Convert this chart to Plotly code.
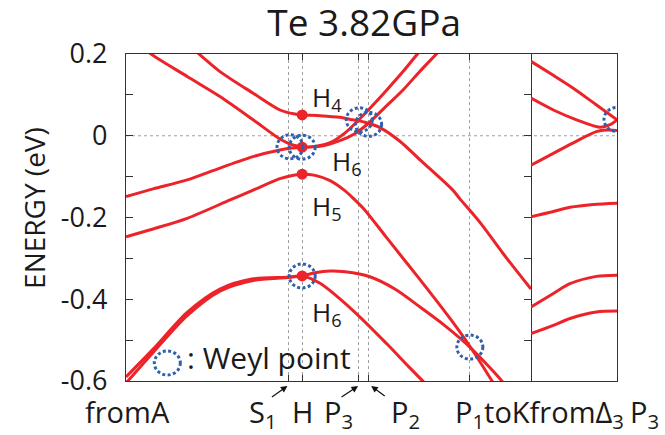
import plotly.graph_objects as go

# ---------------- data ----------------
# k-path positions (left panel, arbitrary units 0..1)
K_S1, K_H, K_P3, K_P2, K_P1 = 0.401, 0.435, 0.573, 0.598, 0.848
sym_k = [K_S1, K_H, K_P3, K_P2, K_P1]

# left panel bands (fromA ... toK)
bandA_k = [0.158, 0.178, 0.232, 0.314, 0.380, 0.417, 0.435, 0.479, 0.528, 0.560, 0.590, 0.627, 0.677, 0.726, 0.807, 0.825, 0.874, 0.931, 1.000]
bandA_E = [0.220, 0.202, 0.157, 0.104, 0.063, 0.053, 0.051, 0.049, 0.045, 0.039, 0.033, 0.020, -0.014, -0.059, -0.133, -0.155, -0.212, -0.288, -0.375]

bandB_k = [0.047, 0.059, 0.151, 0.232, 0.314, 0.380, 0.410, 0.435]
bandB_E = [0.215, 0.202, 0.145, 0.096, 0.039, -0.008, -0.022, -0.028]

bandC_k = [0.000, 0.067, 0.151, 0.232, 0.314, 0.380, 0.410, 0.435]
bandC_E = [-0.149, -0.130, -0.108, -0.079, -0.051, -0.035, -0.030, -0.028]

bandU1_k = [0.435, 0.467, 0.504, 0.541, 0.573, 0.607, 0.644, 0.684, 0.721, 0.738]
bandU1_E = [-0.028, -0.026, -0.017, 0.007, 0.037, 0.072, 0.112, 0.157, 0.202, 0.222]

bandU2_k = [0.435, 0.479, 0.528, 0.565, 0.598, 0.640, 0.684, 0.726, 0.768, 0.785]
bandU2_E = [-0.028, -0.026, -0.012, 0.005, 0.030, 0.070, 0.112, 0.158, 0.202, 0.222]

bandD_k = [0.000, 0.067, 0.151, 0.257, 0.314, 0.380, 0.417, 0.435, 0.467, 0.504, 0.541, 0.560, 0.590, 0.644, 0.726, 0.800, 0.849, 0.904, 0.920]
bandD_E = [-0.247, -0.228, -0.202, -0.157, -0.133, -0.105, -0.096, -0.094, -0.097, -0.110, -0.135, -0.152, -0.182, -0.250, -0.352, -0.447, -0.515, -0.600, -0.625]

bandE1_k = [0.000, 0.067, 0.151, 0.232, 0.314, 0.398, 0.435, 0.467, 0.504, 0.541, 0.602, 0.664, 0.726, 0.788, 0.849, 0.928, 0.945]
bandE1_E = [-0.590, -0.522, -0.432, -0.375, -0.350, -0.346, -0.343, -0.335, -0.331, -0.333, -0.345, -0.375, -0.419, -0.465, -0.517, -0.600, -0.625]

bandE2_k = [0.000, 0.067, 0.151, 0.232, 0.314, 0.398, 0.435, 0.479, 0.560, 0.644, 0.701, 0.743, 0.760]
bandE2_E = [-0.605, -0.530, -0.440, -0.380, -0.354, -0.347, -0.343, -0.361, -0.427, -0.509, -0.568, -0.610, -0.625]

left_bands = [(bandA_k, bandA_E), (bandB_k, bandB_E), (bandC_k, bandC_E),
              (bandU1_k, bandU1_E), (bandU2_k, bandU2_E), (bandD_k, bandD_E),
              (bandE1_k, bandE1_E), (bandE2_k, bandE2_E)]

# right panel bands (fromΔ3 ... P3)
r1_k = [0, 0.25, 0.5, 0.75, 1.0];            r1_E = [0.182, 0.149, 0.115, 0.077, 0.039]
r2_k = [0, 0.26, 0.53, 0.80, 0.92, 1.0];     r2_E = [0.092, 0.063, 0.039, 0.021, 0.027, 0.039]
r3_k = [0, 0.26, 0.53, 0.76, 0.88, 1.0];     r3_E = [-0.072, -0.043, -0.013, 0.010, 0.014, 0.013]
r4_k = [0, 0.25, 0.453, 0.725, 1.0];         r4_E = [-0.198, -0.186, -0.175, -0.168, -0.165]
r5_k = [0, 0.26, 0.453, 0.76, 1.0];          r5_E = [-0.419, -0.386, -0.362, -0.344, -0.341]
r6_k = [0, 0.26, 0.453, 0.76, 1.0];          r6_E = [-0.484, -0.464, -0.447, -0.431, -0.429]
right_bands = [(r1_k, r1_E), (r2_k, r2_E), (r3_k, r3_E), (r4_k, r4_E), (r5_k, r5_E), (r6_k, r6_E)]

# H-point states
h_E = [0.051, -0.028, -0.094, -0.343]
h_labels = ["H<sub>4</sub>", "H<sub>6</sub>", "H<sub>5</sub>", "H<sub>6</sub>"]

# Weyl points
weyl_k = [0.405, 0.435, 0.576, 0.599, 0.435, 0.849]
weyl_E = [-0.027, -0.028, 0.039, 0.028, -0.343, -0.517]
weyl2_k = [1.0]
weyl2_E = [0.040]
legend_k, legend_E = 0.102, -0.556

E_MIN, E_MAX = -0.6, 0.2
ytick_vals = [-0.6, -0.4, -0.2, 0, 0.2]
ytick_text = ["-0.6", "-0.4", "-0.2", "0", "0.2"]

# ---------------- figure ----------------
RED = "#ec2329"
BLUE = "#2f5fae"
TXT = "#1a1a1a"
AX = "#333333"
FONT = "Open Sans"
LW = 1.3

fig = go.Figure()
for kk, ee in left_bands:
    fig.add_trace(go.Scatter(x=kk, y=ee, mode="lines", xaxis="x", yaxis="y",
                             line=dict(color=RED, width=3, shape="spline", smoothing=0.8),
                             hoverinfo="skip", showlegend=False))
for kk, ee in right_bands:
    fig.add_trace(go.Scatter(x=kk, y=ee, mode="lines", xaxis="x2", yaxis="y2",
                             line=dict(color=RED, width=3, shape="spline", smoothing=0.8),
                             hoverinfo="skip", showlegend=False))
fig.add_trace(go.Scatter(x=[K_H] * len(h_E), y=h_E, mode="markers", xaxis="x", yaxis="y",
                         marker=dict(color=RED, size=11), showlegend=False, hoverinfo="skip"))

dom_split = 405 / 491
fig.update_layout(
    width=665, height=435,
    margin=dict(l=126, r=48, t=54, b=54),
    paper_bgcolor="white", plot_bgcolor="white",
    font=dict(family=FONT, color=TXT),
    showlegend=False,
    title=dict(text="Te 3.82GPa", font=dict(size=37, family=FONT, color=TXT),
               x=0.485, xref="paper", xanchor="center", y=0.977, yref="container", yanchor="top",
               pad=dict(t=0, b=0, l=0, r=0)),
    xaxis=dict(domain=[0, dom_split], range=[0, 1], anchor="y",
               tickvals=sym_k, ticks="inside", ticklen=6, tickcolor=AX, tickwidth=1,
               showticklabels=False, showline=True, linecolor=AX, linewidth=LW, mirror="ticks",
               showgrid=True, gridcolor="#a0a0a0", gridwidth=1, griddash="dot", zeroline=False),
    xaxis2=dict(domain=[dom_split, 1], range=[0, 1], anchor="y2",
                showticklabels=False, ticks="", showline=True, linecolor=AX, linewidth=LW,
                mirror=True, showgrid=False, zeroline=False),
    yaxis=dict(range=[E_MIN, E_MAX], anchor="x", tickvals=ytick_vals, ticktext=ytick_text,
               ticks="inside", ticklen=7, tickcolor=AX, tickwidth=1.2,
               minor=dict(dtick=0.1, tick0=0, ticks="inside", ticklen=7, tickcolor=AX, tickwidth=1.2),
               tickfont=dict(size=27, family=FONT, color=TXT), ticklabelstandoff=12,
               showline=True, linecolor=AX, linewidth=LW, mirror="ticks",
               showgrid=False, zeroline=False),
    yaxis2=dict(range=[E_MIN, E_MAX], anchor="x2", matches="y", side="right", showticklabels=False,
                ticks="", showline=True, linecolor=AX, linewidth=LW, mirror=False,
                showgrid=False, zeroline=False),
)

shapes = []
# zero-energy dotted reference line
shapes.append(dict(type="line", xref="paper", yref="y", x0=0, x1=1, y0=0, y1=0,
                   line=dict(color="#a0a0a0", width=1, dash="dot"), layer="below"))

def weyl_circle(xref, yref, xc, yc):
    return dict(type="circle", xref=xref, yref=yref, xsizemode="pixel", ysizemode="pixel",
                xanchor=xc, yanchor=yc, x0=-13, x1=13, y0=-12, y1=12,
                line=dict(color=BLUE, width=3, dash="3px,2.4px"), layer="above")

for kk, ee in zip(weyl_k, weyl_E):
    shapes.append(weyl_circle("x", "y", kk, ee))
for kk, ee in zip(weyl2_k, weyl2_E):
    shapes.append(weyl_circle("x2", "y2", kk, ee))
shapes.append(weyl_circle("x", "y", legend_k, legend_E))
fig.update_layout(shapes=shapes)

ann = []
# H labels
h_shift = [(8, 17), (28, -15), (8, -33), (8, -37)]
for e, lab, (dx, dy) in zip(h_E, h_labels, h_shift):
    ann.append(dict(x=K_H, y=e, xref="x", yref="y", text=lab, showarrow=False,
                    xanchor="left", yanchor="middle", xshift=dx, yshift=dy,
                    font=dict(size=26, family=FONT, color=TXT)))
# legend text
ann.append(dict(x=legend_k, y=legend_E, xref="x", yref="y", text=": Weyl point", showarrow=False,
                xanchor="left", yanchor="middle", xshift=18, yshift=6,
                font=dict(size=30, family=FONT, color=TXT)))
# y-axis title
ann.append(dict(x=-0.189, y=0.53, xref="paper", yref="paper", text="ENERGY (eV)", showarrow=False,
                textangle=-90, xanchor="center", yanchor="middle",
                font=dict(size=28, family=FONT, color=TXT)))
# bottom labels
LBL = dict(size=29, family=FONT, color=TXT)
bottom = [
    ("x", 0.0, "fromA", "center", 1),
    ("x", K_S1, "S<sub>1</sub>", "center", -25),
    ("x", K_H, "H", "center", 0),
    ("x", K_P3, "P<sub>3</sub>", "center", -20),
    ("x", K_P2, "P<sub>2</sub>", "center", 37),
    ("x", K_P1, "P<sub>1</sub>toKfromΔ<sub>3</sub>", "left", -16),
    ("x2", 1.0, "P<sub>3</sub>", "left", 11),
]
for xr, xv, t, xa, dx in bottom:
    ann.append(dict(x=xv, y=E_MIN, xref=xr, yref="y" if xr == "x" else "y2", text=t, showarrow=False,
                    xanchor=xa, yanchor="top", xshift=dx, yshift=-9, font=LBL))
# arrows
for xv, dx, ax_, ay_ in [(K_S1, -1, -17, 12), (K_P3, 0, -18, 12), (K_P2, 3, 15, 11)]:
    ann.append(dict(x=xv, y=E_MIN, xref="x", yref="y", text="", showarrow=True,
                    ax=ax_, ay=ay_, axref="pixel", ayref="pixel", xshift=dx, yshift=-5,
                    arrowhead=2, arrowsize=1.1, arrowwidth=1.2, arrowcolor="#111111"))
fig.update_layout(annotations=ann)

fig.write_html("out.html")
